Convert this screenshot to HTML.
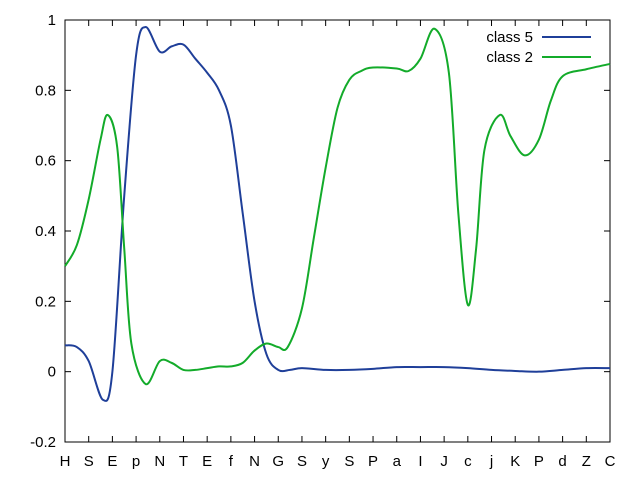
<!DOCTYPE html>
<html><head><meta charset="utf-8"><style>
body{margin:0;background:#fff}
svg{display:block;font-family:"Liberation Sans",sans-serif;font-size:15px}
</style></head><body>
<svg id="chart" width="640" height="480"></svg>
<script>
const categories=["H","S","E","p","N","T","E","f","N","G","S","y","S","P","a","I","J","c","j","K","P","d","Z","C"];
const yTicks=[-0.2,0,0.2,0.4,0.6,0.8,1];
const yTickLabels=["-0.2","0","0.2","0.4","0.6","0.8","1"];
const class5X=[0,0.5,1,1.6,2,2.5,3,3.4,4,4.5,5,5.5,6,6.5,7,7.5,8,8.5,9,9.5,10,11,12,13,14,15,16,17,18,19,20,21,22,23];
const class5Y=[0.075,0.07,0.03,-0.08,0.0,0.5,0.9,0.98,0.91,0.925,0.93,0.89,0.85,0.8,0.7,0.45,0.2,0.05,0.005,0.005,0.01,0.005,0.005,0.008,0.013,0.013,0.013,0.01,0.005,0.002,0.0,0.005,0.01,0.01];
const class2X=[0,0.5,1,1.5,1.8,2.2,2.5,2.8,3.4,4,4.5,5,5.5,6,6.5,7,7.5,8,8.5,9,9.4,10,10.5,11,11.5,12,12.5,13,14,14.5,15,15.6,16.2,16.6,17,17.35,17.7,18.35,18.8,19.4,20,20.5,21,22,23];
const class2Y=[0.3,0.36,0.49,0.66,0.73,0.64,0.35,0.08,-0.035,0.03,0.025,0.005,0.005,0.01,0.015,0.015,0.025,0.06,0.08,0.07,0.07,0.18,0.38,0.58,0.75,0.83,0.855,0.865,0.862,0.855,0.89,0.975,0.85,0.45,0.19,0.35,0.63,0.73,0.67,0.615,0.66,0.77,0.84,0.86,0.875];
const NS="http://www.w3.org/2000/svg";
const svg=document.getElementById('chart');
const L=65,R=610,T=20,B=442;
const xs=i=>L+i*(R-L)/(categories.length-1);
const ys=v=>B-(v+0.2)/1.2*(B-T);
function mk(tag,attrs){const e=document.createElementNS(NS,tag);for(const k in attrs)e.setAttribute(k,attrs[k]);svg.appendChild(e);return e;}
const frame=mk('rect',{x:L,y:T,width:R-L,height:B-T,fill:'none',stroke:'#000','stroke-width':1});


yTicks.forEach((v,i)=>{
 const y=ys(v);
 const t1=mk('line',{x1:L,x2:L+6,y1:y,y2:y,stroke:'#000'});
 
 
 const t2=mk('line',{x1:R-6,x2:R,y1:y,y2:y,stroke:'#000'});
 
 
 const tx=mk('text',{x:L-9,y:y+5,'text-anchor':'end'});tx.textContent=yTickLabels[i];
 
 
});
categories.forEach((c,i)=>{
 const x=xs(i);
 const t1=mk('line',{x1:x,x2:x,y1:B,y2:B-6,stroke:'#000'});
 
 
 const t2=mk('line',{x1:x,x2:x,y1:T,y2:T+6,stroke:'#000'});
 
 
 const tx=mk('text',{x:x,y:B+24,'text-anchor':'middle'});tx.textContent=c;
 
 
});
function smooth(X,Y){
 const p=X.map((x,i)=>[xs(x),ys(Y[i])]);
 let d='M'+p[0][0]+','+p[0][1];
 for(let i=0;i<p.length-1;i++){
  const p0=p[Math.max(0,i-1)],p1=p[i],p2=p[i+1],p3=p[Math.min(p.length-1,i+2)];
  const c1=[p1[0]+(p2[0]-p0[0])/6,p1[1]+(p2[1]-p0[1])/6];
  const c2=[p2[0]-(p3[0]-p1[0])/6,p2[1]-(p3[1]-p1[1])/6];
  d+=' C'+c1+' '+c2+' '+p2;
 }
 return d;
}
const s5=mk('path',{d:smooth(class5X,class5Y),fill:'none',stroke:'#1f3f99','stroke-width':2});


const s2=mk('path',{d:smooth(class2X,class2Y),fill:'none',stroke:'#13ab2a','stroke-width':2});


[["class 5","#1f3f99",37],["class 2","#13ab2a",57]].forEach(([n,c,y])=>{
 const tx=mk('text',{x:533,y:y+5,'text-anchor':'end'});tx.textContent=n;
 
 
 const ln=mk('line',{x1:542,x2:591,y1:y,y2:y,stroke:c,'stroke-width':2});
 
 
});
</script>
</body></html>
